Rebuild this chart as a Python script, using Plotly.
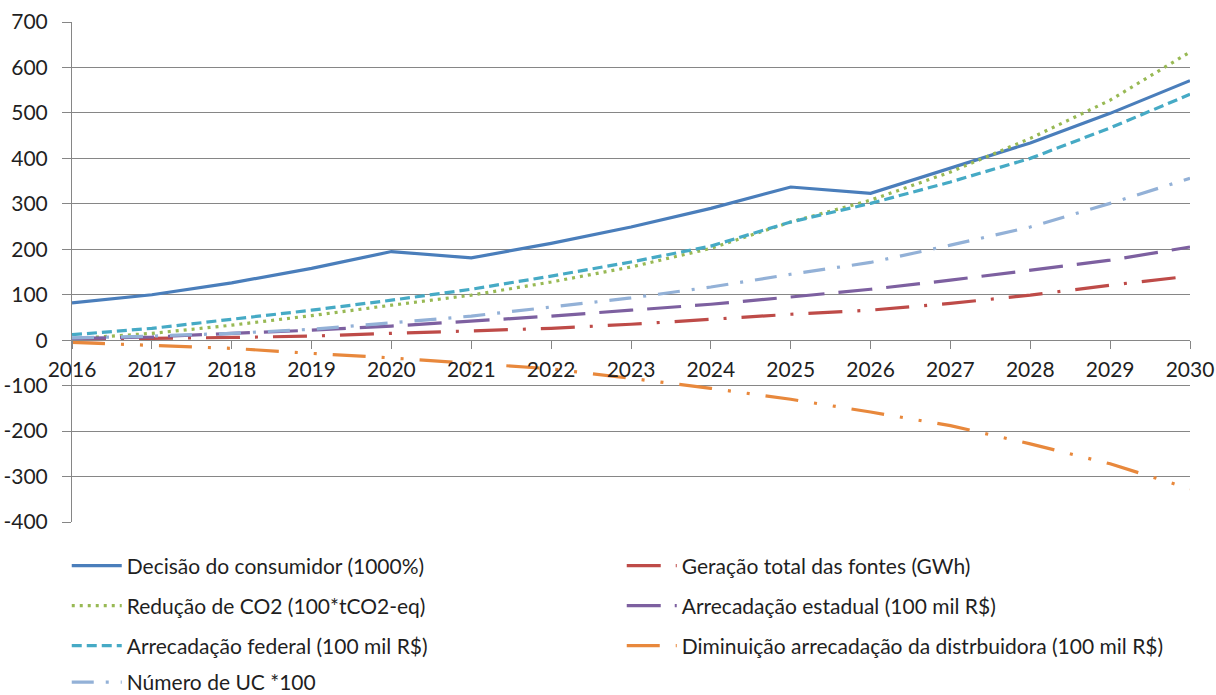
import plotly.graph_objects as go

years = list(range(2016, 2031))
decisao = [82, 100, 126, 158, 195, 181, 213, 249, 290, 337, 323, 378, 434, 499, 571]
geracao = [0, 4, 6, 9, 15, 20, 26, 35, 46, 57, 66, 81, 99, 121, 141]
reducao = [3, 15, 33, 54, 77, 99, 128, 161, 202, 260, 308, 370, 444, 528, 634]
estadual = [4, 7, 15, 22, 31, 42, 53, 66, 79, 95, 112, 132, 154, 176, 205]
federal = [12, 26, 46, 66, 88, 112, 141, 172, 207, 260, 301, 348, 400, 467, 541]
diminuicao = [-5, -12, -18, -29, -39, -51, -63, -84, -106, -130, -158, -188, -228, -272, -327]
numero = [5, 9, 15, 24, 38, 53, 73, 93, 117, 145, 171, 209, 249, 301, 356]

names = [
    "Decisão do consumidor (1000%)",
    "Geração total das fontes (GWh)",
    "Redução de CO2 (100*tCO2-eq)",
    "Arrecadação estadual (100 mil R$)",
    "Arrecadação federal (100 mil R$)",
    "Diminuição arrecadação da distrbuidora (100 mil R$)",
    "Número de UC *100",
]
yticks = [700, 600, 500, 400, 300, 200, 100, 0, -100, -200, -300, -400]
yticktext = [str(v) for v in yticks]

series = [decisao, geracao, reducao, estadual, federal, diminuicao, numero]
colors = ["#4A7EBB", "#BE4B48", "#98B954", "#7D60A0", "#46AAC5", "#E8883C", "#93B1D7"]
dashes = ["solid", "34px,15px,3px,15px", "3px,5px", "34px,14px", "10px,5px",
          "33px,16px,3px,16px,3px,16px", "22px,12px,3px,12px"]
legends = ["legend", "legend", "legend2", "legend2", "legend3", "legend3", "legend4"]

fig = go.Figure()
for s, n, c, d, lg in zip(series, names, colors, dashes, legends):
    fig.add_trace(go.Scatter(x=years, y=s, name=n, mode="lines",
                             line=dict(color=c, width=3.2, dash=d), legend=lg))

font = dict(family="Lato, Carlito, sans-serif", size=21, color="#1F1F1F")
zero_pos = 400 / 1100

leg_common = dict(orientation="h", xanchor="left", yanchor="middle", x=-0.0047,
                  entrywidth=490, font=font, bgcolor="rgba(0,0,0,0)", itemwidth=50)
fig.update_layout(
    width=1216, height=695,
    margin=dict(l=72, r=26, t=22, b=173, autoexpand=False),
    plot_bgcolor="white", paper_bgcolor="white",
    font=font,
    showlegend=True,
    legend=dict(y=-0.088, **leg_common),
    legend2=dict(y=-0.168, **leg_common),
    legend3=dict(y=-0.248, **leg_common),
    legend4=dict(y=-0.321, **leg_common),
    xaxis=dict(range=[2016, 2030], tickvals=years, ticktext=[str(y) for y in years],
               showgrid=False, zeroline=False, showline=True, linecolor="#868686",
               linewidth=1, ticks="outside", ticklen=8, tickcolor="#868686",
               anchor="free", position=zero_pos, tickfont=font, automargin=False,
               ticklabelstandoff=3),
    yaxis=dict(range=[-400, 700], tickvals=yticks, ticktext=yticktext,
               showgrid=True, gridcolor="#868686", gridwidth=1, zeroline=False,
               showline=True, linecolor="#868686", linewidth=1, ticks="outside",
               ticklen=9, tickcolor="#868686", tickfont=font, automargin=False,
               ticklabelstandoff=10),
)

fig.write_html("out.html", post_script="document.body.style.margin='0';",
               config={"displayModeBar": False})
